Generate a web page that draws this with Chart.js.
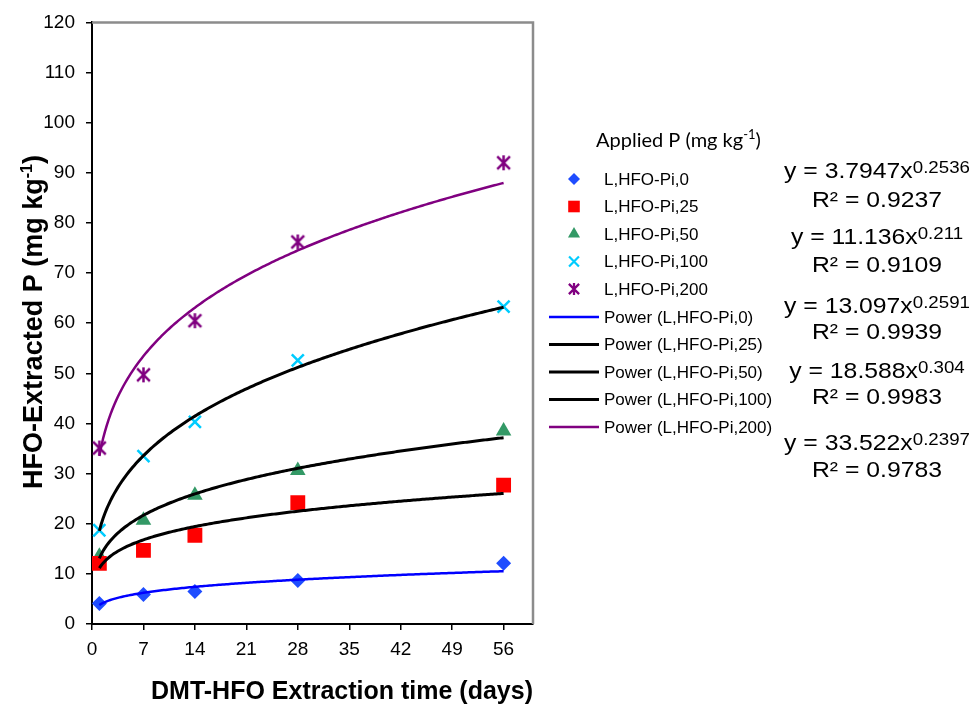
<!DOCTYPE html>
<html>
<head>
<meta charset="utf-8">
<title>HFO-Extracted P</title>
<script src="https://cdn.jsdelivr.net/npm/chart.js@4.4.1/dist/chart.umd.min.js"></script>
<style>
  html, body { margin: 0; padding: 0; background: #fff; }
  #wrap { width: 972px; height: 708px; }
</style>
</head>
<body>
<div id="wrap"><canvas id="grafico" width="972" height="708"></canvas></div>
<script>
// --- datos ---
const dias = [1, 7, 14, 28, 56];
const pi0 = [4.1, 5.9, 6.5, 8.7, 12.1];
const pi25 = [12.1, 14.7, 17.7, 24.2, 27.7];
const pi50 = [13.5, 20.7, 25.7, 30.6, 38.5];
const pi100 = [18.7, 33.5, 40.3, 52.6, 63.3];
const pi200 = [35.1, 49.7, 60.5, 76.2, 92.0];
const series = [pi0, pi25, pi50, pi100, pi200];
const etiquetas = ["L,HFO-Pi,0", "L,HFO-Pi,25", "L,HFO-Pi,50", "L,HFO-Pi,100", "L,HFO-Pi,200"];

// ajuste potencial y = a * x^b de cada serie
const coefA = [3.7947, 11.136, 13.097, 18.588, 33.522];
const coefB = [0.2536, 0.211, 0.2591, 0.304, 0.2397];
const textoA = ["3.7947", "11.136", "13.097", "18.588", "33.522"];
const textoB = ["0.2536", "0.211", "0.2591", "0.304", "0.2397"];
const textoR2 = ["0.9237", "0.9109", "0.9939", "0.9983", "0.9783"];

const FUENTE = "'Liberation Sans', Arial, sans-serif";

// asterisco tipo Excel (X con barra vertical)
function crearAsterisco(tam, color, grosor) {
  const c = document.createElement("canvas");
  c.width = tam; c.height = tam;
  const g = c.getContext("2d");
  const m = tam / 2, r = tam / 2 - 1, d = r * 0.85;
  g.strokeStyle = color;
  g.lineWidth = grosor;
  g.beginPath();
  g.moveTo(m - d, m - d); g.lineTo(m + d, m + d);
  g.moveTo(m + d, m - d); g.lineTo(m - d, m + d);
  g.moveTo(m, m - r); g.lineTo(m, m + r);
  g.stroke();
  return c;
}

const colorMarca = ["#1f4dff", "#ff0000", "#339966", "#00ccff", "#800080"];
const colorAjuste = ["#0000ff", "#000000", "#000000", "#000000", "#800080"];
const grosorAjuste = [2.5, 3, 3, 3, 2.5];

// estilos de marcador: [grafico, leyenda]
const marcas = [
  { pointStyle: "rectRot", r: [7.5, 6], borde: 0 },
  { pointStyle: "rect", r: [10.5, 8.2], borde: 0 },
  { pointStyle: "triangle", r: [9, 7], borde: 0 },
  { pointStyle: "crossRot", r: [8.5, 7], borde: 2.5 },
  { pointStyle: [crearAsterisco(17, "#800080", 2.5), crearAsterisco(14, "#800080", 2.3)], r: [8, 7], borde: 0 }
];

function estiloPunto(i, k) {
  const m = marcas[i];
  return Array.isArray(m.pointStyle) ? m.pointStyle[k] : m.pointStyle;
}

const datasets = [];

// curvas de ajuste (encima de los marcadores)
series.forEach((s, i) => {
  const puntos = [];
  for (let x = dias[0]; x <= dias[dias.length - 1] + 1e-9; x += 0.25) {
    puntos.push({ x: x, y: coefA[i] * Math.pow(x, coefB[i]) });
  }
  datasets.push({
    label: "Power (" + etiquetas[i] + ")",
    data: puntos,
    showLine: true,
    borderColor: colorAjuste[i],
    borderWidth: grosorAjuste[i],
    pointRadius: 0,
    tension: 0,
    order: 0
  });
});

// valores medidos
series.forEach((s, i) => {
  const esLinea = marcas[i].pointStyle === "crossRot";
  datasets.push({
    label: etiquetas[i],
    data: dias.map((d, j) => ({ x: d, y: s[j] })),
    showLine: false,
    pointStyle: estiloPunto(i, 0),
    pointRadius: marcas[i].r[0],
    pointHoverRadius: marcas[i].r[0],
    backgroundColor: colorMarca[i],
    borderColor: colorMarca[i],
    borderWidth: esLinea ? marcas[i].borde : 0,
    order: 1
  });
});

// texto con superindice; devuelve el ancho
function medirSuper(ctx, partes) {
  let w = 0;
  partes.forEach(p => { ctx.font = p.f; w += ctx.measureText(p.t).width; });
  return w;
}
function pintarSuper(ctx, partes, x, y) {
  partes.forEach(p => {
    ctx.font = p.f;
    ctx.fillText(p.t, x, y - (p.sube || 0));
    x += ctx.measureText(p.t).width;
  });
}

const extras = {
  id: "extras",
  beforeDatasetsDraw(chart) {
    const { ctx, chartArea: a } = chart;
    ctx.save();
    ctx.strokeStyle = "#8c8c8c";
    ctx.lineWidth = 2.5;
    ctx.beginPath();
    ctx.moveTo(a.left, a.top);
    ctx.lineTo(a.right, a.top);
    ctx.lineTo(a.right, a.bottom);
    ctx.stroke();
    ctx.restore();
  },
  afterDraw(chart) {
    const ctx = chart.ctx;
    ctx.save();
    ctx.fillStyle = "#000";
    ctx.textBaseline = "alphabetic";
    ctx.textAlign = "left";

    // titulo del eje Y
    const tituloY = [
      { t: "HFO-Extracted P (mg kg", f: "bold 27px " + FUENTE },
      { t: "-1", f: "bold 16px " + FUENTE, sube: 10 },
      { t: ")", f: "bold 27px " + FUENTE }
    ];
    const wy = medirSuper(ctx, tituloY);
    ctx.save();
    ctx.translate(42, 322 + wy / 2);
    ctx.rotate(-Math.PI / 2);
    pintarSuper(ctx, tituloY, 0, 0);
    ctx.restore();

    // leyenda
    const tituloLeyenda = [
      { t: "Applied P (mg kg", f: "20px Lato, 'Open Sans', sans-serif" },
      { t: "-1", f: "13px Lato, 'Open Sans', sans-serif", sube: 8 },
      { t: ")", f: "20px Lato, 'Open Sans', sans-serif" }
    ];
    pintarSuper(ctx, tituloLeyenda, 596, 147);

    ctx.font = "17px " + FUENTE;
    ctx.textBaseline = "middle";
    const filaY = [179, 206.5, 234, 261.5, 289];
    etiquetas.forEach((et, i) => {
      const y = filaY[i];
      ctx.save();
      ctx.fillStyle = colorMarca[i];
      ctx.strokeStyle = colorMarca[i];
      ctx.lineWidth = 2.2;
      Chart.helpers.drawPoint(ctx, {
        pointStyle: estiloPunto(i, 1),
        radius: marcas[i].r[1],
        rotation: 0,
        borderWidth: marcas[i].pointStyle === "crossRot" ? 2.2 : 0
      }, 574, y);
      ctx.restore();
      ctx.fillStyle = "#000";
      ctx.font = "17px " + FUENTE;
      ctx.fillText(et, 604, y + 1);
    });
    const lineaY = [317, 344.5, 372, 399.5, 427];
    etiquetas.forEach((et, i) => {
      const y = lineaY[i];
      ctx.strokeStyle = colorAjuste[i];
      ctx.lineWidth = grosorAjuste[i];
      ctx.beginPath();
      ctx.moveTo(549, y);
      ctx.lineTo(599, y);
      ctx.stroke();
      ctx.fillStyle = "#000";
      ctx.fillText("Power (" + et + ")", 604, y + 1);
    });

    // ecuaciones de ajuste
    ctx.textBaseline = "alphabetic";
    const baseEc = [178, 244, 313, 378, 450];
    const baseR2 = [207, 272, 339, 404, 477];
    const escala = 1.1, centro = 877;
    textoA.forEach((a, i) => {
      const ec = [
        { t: "y = " + a + "x", f: "22.5px " + FUENTE },
        { t: textoB[i], f: "17px " + FUENTE, sube: 5 }
      ];
      const w1 = medirSuper(ctx, ec) * escala;
      ctx.save();
      ctx.translate(centro - w1 / 2, baseEc[i]);
      ctx.scale(escala, 1);
      pintarSuper(ctx, ec, 0, 0);
      ctx.restore();

      const r2 = [{ t: "R\u00b2 = " + textoR2[i], f: "22.5px " + FUENTE }];
      const w2 = medirSuper(ctx, r2) * escala;
      ctx.save();
      ctx.translate(centro - w2 / 2, baseR2[i]);
      ctx.scale(escala, 1);
      pintarSuper(ctx, r2, 0, 0);
      ctx.restore();
    });
    ctx.restore();
  }
};

new Chart(document.getElementById("grafico").getContext("2d"), {
  type: "scatter",
  data: { datasets },
  options: {
    responsive: false,
    animation: false,
    layout: { padding: { top: 16, right: 439, left: 0, bottom: 0 } },
    plugins: {
      legend: { display: false },
      tooltip: { enabled: false }
    },
    scales: {
      x: {
        type: "linear",
        min: 0,
        max: 60,
        afterFit(s) { s.height = 84; },
        ticks: {
          stepSize: 7,
          includeBounds: false,
          maxRotation: 0,
          color: "#000",
          padding: 8,
          font: { family: FUENTE, size: 19 }
        },
        grid: { drawOnChartArea: false, drawTicks: true, tickLength: 6, color: "#000", lineWidth: 1.5 },
        border: { display: true, color: "#000", width: 2 },
        title: {
          display: true,
          text: "DMT-HFO Extraction time (days)",
          align: "end",
          color: "#000",
          font: { family: FUENTE, size: 25, weight: "bold" },
          padding: { top: 0, bottom: 1 }
        }
      },
      y: {
        min: 0,
        max: 120,
        afterFit(s) { s.width = 92; },
        ticks: {
          stepSize: 10,
          color: "#000",
          padding: 11,
          font: { family: FUENTE, size: 19 }
        },
        grid: { drawOnChartArea: false, drawTicks: true, tickLength: 6, color: "#000", lineWidth: 1.5 },
        border: { display: true, color: "#000", width: 2 }
      }
    }
  },
  plugins: [extras]
});
</script>
</body>
</html>
